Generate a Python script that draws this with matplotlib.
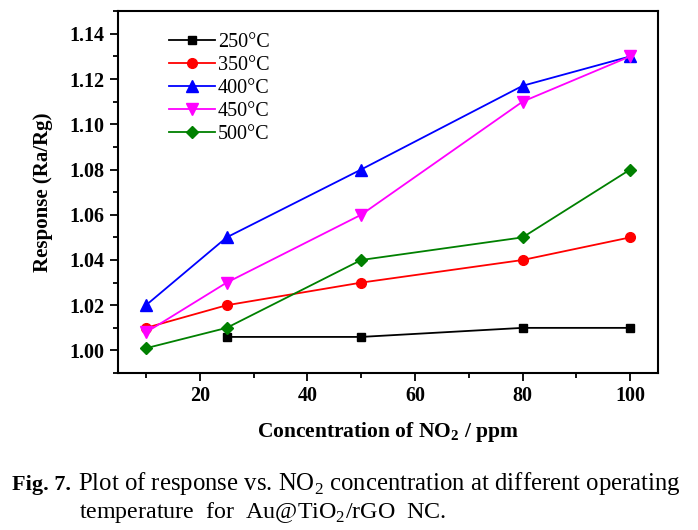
import matplotlib
matplotlib.use("Agg")
import matplotlib.pyplot as plt
import matplotlib.ticker as mticker

plt.rcParams['font.family'] = ['Liberation Serif', 'DejaVu Serif']
plt.rcParams['mathtext.fontset'] = 'custom'
plt.rcParams['mathtext.rm'] = 'Liberation Serif'
plt.rcParams['mathtext.bf'] = 'Liberation Serif:bold'

# data
conc = [10, 25, 50, 80, 100]
conc_250 = [25, 50, 80, 100]
resp_250 = [1.006, 1.006, 1.010, 1.010]
resp_350 = [1.010, 1.020, 1.030, 1.040, 1.050]
resp_400 = [1.020, 1.050, 1.080, 1.117, 1.130]
resp_450 = [1.008, 1.030, 1.060, 1.110, 1.130]
resp_500 = [1.001, 1.010, 1.040, 1.050, 1.080]
labels = ["250\u00b0C", "350\u00b0C", "400\u00b0C", "450\u00b0C", "500\u00b0C"]

fig = plt.figure(figsize=(6.98, 5.30), dpi=100)
ax = fig.add_axes([0.169, 0.296, 0.774, 0.683])

ax.plot(conc_250, resp_250, color="black", marker="s", ms=6, lw=1.3, label=labels[0])
ax.plot(conc, resp_350, color="red", marker="o", ms=7, lw=1.3, label=labels[1])
ax.plot(conc, resp_400, color="blue", marker="^", ms=8, lw=1.3, label=labels[2])
ax.plot(conc, resp_450, color="magenta", marker="v", ms=8, lw=1.3, label=labels[3])
ax.plot(conc, resp_500, color="green", marker="D", ms=6, lw=1.3, label=labels[4])

ax.set_xlim(4.8, 105.2)
ax.set_ylim(0.99, 1.15)
ax.xaxis.set_major_locator(mticker.MultipleLocator(20))
ax.xaxis.set_minor_locator(mticker.MultipleLocator(10))
ax.yaxis.set_major_locator(mticker.MultipleLocator(0.02))
ax.yaxis.set_minor_locator(mticker.MultipleLocator(0.01))
ax.yaxis.set_major_formatter(mticker.FormatStrFormatter("%.2f"))
ax.xaxis.set_major_formatter(mticker.FormatStrFormatter("%d"))

ax.tick_params(which="major", direction="out", length=6, width=1.3, labelsize=14.5)
ax.tick_params(which="minor", direction="out", length=3.5, width=1.3)
for lab in ax.get_xticklabels() + ax.get_yticklabels():
    lab.set_fontweight("bold")
for sp in ax.spines.values():
    sp.set_linewidth(1.5)

ax.set_ylabel("Response (Ra/Rg)", fontsize=15, fontweight="bold", labelpad=12)
ax.set_xlabel(r"Concentration of NO$_\mathbf{2}$ / ppm", fontsize=15.5, fontweight="bold", labelpad=10)

ax.legend(loc="upper left", bbox_to_anchor=(0.06, 0.99), frameon=False, fontsize=14.5,
          handlelength=2.3, handletextpad=0.15, labelspacing=0.2)

# caption
fig.text(0.017, 0.075, "Fig. 7.", fontsize=16, fontweight="bold", va="baseline")
fig.text(0.112, 0.075, r"Plot of response vs. NO$_2$ concentration at different operating",
         fontsize=17.8, va="baseline")
fig.text(0.113, 0.022, r"temperature  for  Au@TiO$_2$/rGO  NC.", fontsize=17.3, va="baseline")

fig.savefig("out.png", dpi=100)
